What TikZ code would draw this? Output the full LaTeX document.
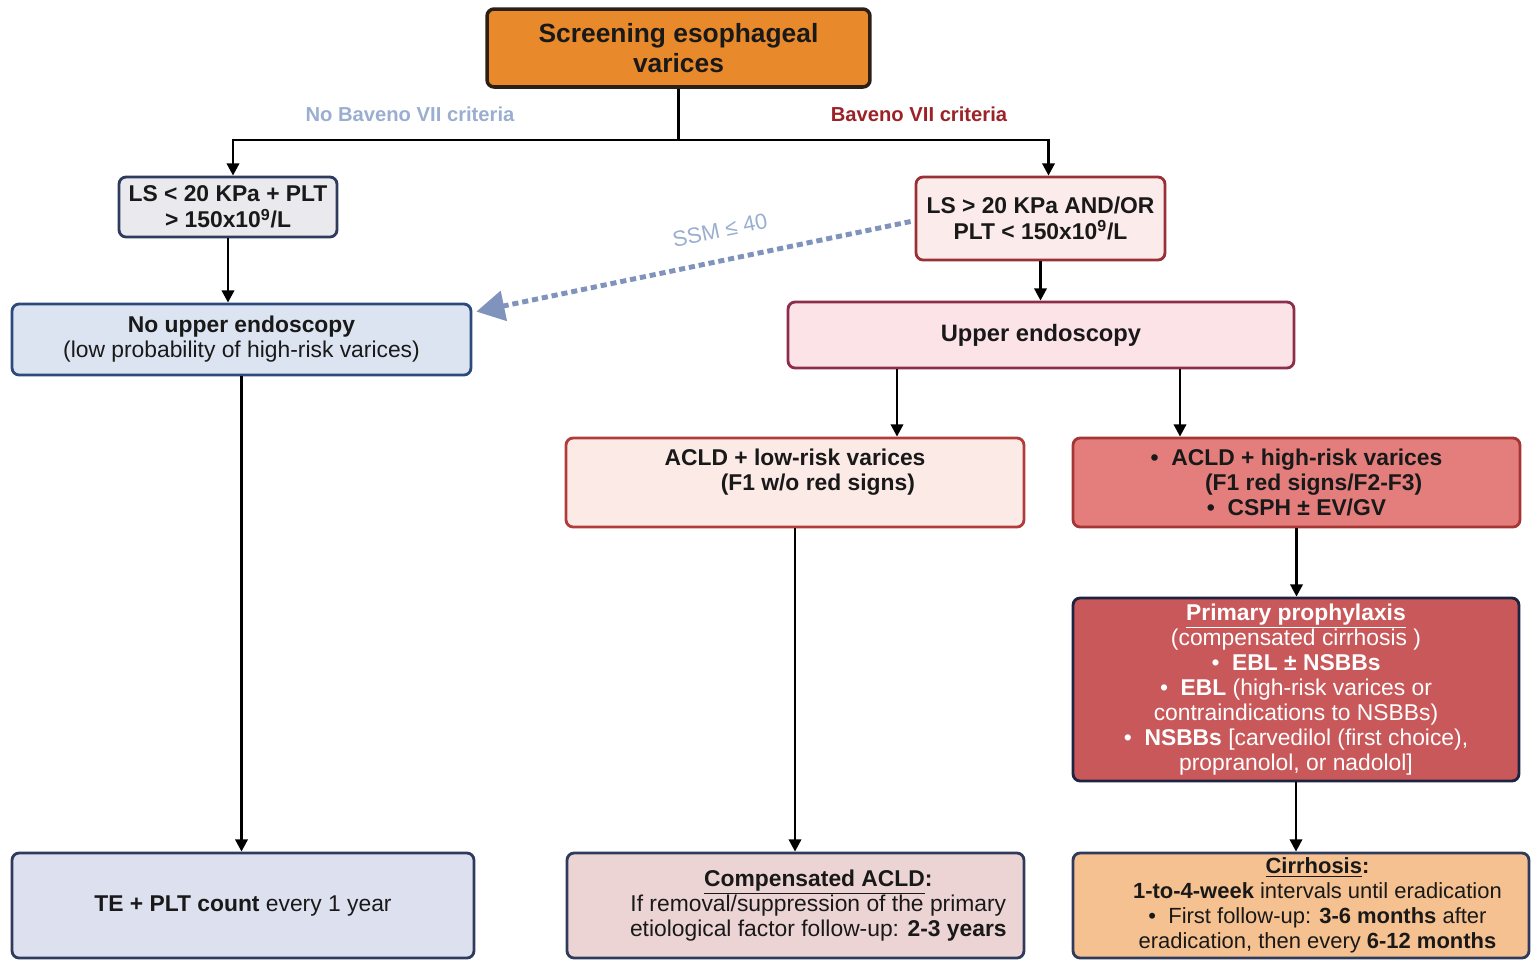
\documentclass[tikz,border=0pt]{standalone}
\usepackage{fontspec}
\setmainfont{Liberation Sans}
\usepackage{xcolor}
\usetikzlibrary{arrows.meta,calc,positioning}

\definecolor{titleorange}{HTML}{E8892B}
\definecolor{titleline}{HTML}{2A2016}
\definecolor{navyline}{HTML}{2E3B5C}
\definecolor{blueline}{HTML}{2D4A7C}
\definecolor{greyfill}{HTML}{E9E9EE}
\definecolor{bluefill}{HTML}{DCE3F1}
\definecolor{tefill}{HTML}{DDE1EF}
\definecolor{pinkfill}{HTML}{FCEBEB}
\definecolor{pinkline}{HTML}{9A2F35}
\definecolor{uefill}{HTML}{FCE3E8}
\definecolor{ueline}{HTML}{8E2C4B}
\definecolor{lowfill}{HTML}{FBEAE6}
\definecolor{lowline}{HTML}{B23B3B}
\definecolor{highfill}{HTML}{E47E7C}
\definecolor{highline}{HTML}{A63535}
\definecolor{primfill}{HTML}{C9585A}
\definecolor{primline}{HTML}{1E2340}
\definecolor{compfill}{HTML}{EDD4D4}
\definecolor{cirrfill}{HTML}{F6C190}
\definecolor{dotblue}{HTML}{8093BC}
\definecolor{labelblue}{HTML}{9AAECF}
\definecolor{labelred}{HTML}{9B2226}

\begin{document}
\begin{tikzpicture}[x=0.02cm, y=-0.02cm,
	box/.style={draw, line width=1.6pt, rounded corners=4pt, align=center,
		inner sep=2pt, font=\fontsize{13}{14.2}\selectfont, text=black!90},
	arr/.style={line width=1.6pt, -{Triangle[length=7pt,width=7pt]}},
	dotarr/.style={dotblue, line width=2.8pt, dash pattern=on 3.5pt off 2.2pt,
		-{Triangle[length=16pt,width=17pt]}},
	crit/.style={font=\bfseries\fontsize{11.5}{13}\selectfont}]
		\useasboundingbox (0,0) rectangle (1532,961);
		% first row
		\node[box, fill=titleorange, draw=titleline, line width=2pt,
			minimum width=7.66cm, minimum height=1.56cm,
			font=\bfseries\fontsize{15}{17}\selectfont]
			(title) at (678.5,48) {Screening esophageal\\varices};
		\node[box, fill=greyfill, draw=navyline, minimum width=4.36cm, minimum height=1.2cm,
			font=\bfseries\fontsize{13}{14.8}\selectfont]
			(lslow) at (228,207) {LS < 20 KPa + PLT\\> 150x10\textsuperscript{9}/L};
		\node[box, fill=pinkfill, draw=pinkline, minimum width=4.98cm, minimum height=1.66cm,
			font=\bfseries\fontsize{13}{14.8}\selectfont]
			(lshigh) at (1040.5,218.5) {LS > 20 KPa AND/OR\\PLT < 150x10\textsuperscript{9}/L};
		% endoscopy
		\node[box, fill=bluefill, draw=blueline, minimum width=9.18cm, minimum height=1.42cm]
			(noendo) at (241.5,339.5) {\textbf{No upper endoscopy}\\(low probability of high-risk varices)};
		\node[box, fill=uefill, draw=ueline, minimum width=10.12cm, minimum height=1.32cm,
			font=\bfseries\fontsize{13.5}{15}\selectfont]
			(ue) at (1041,335) {Upper endoscopy};
		\node[box, fill=lowfill, draw=lowline, minimum width=9.16cm, minimum height=1.78cm,
			font=\bfseries\fontsize{13}{14.2}\selectfont]
			(low) at (795,482.5) {ACLD + low-risk varices\\\hspace*{2em}(F1 w/o red signs)\\\mbox{}};
		\node[box, fill=highfill, draw=highline, minimum width=8.94cm, minimum height=1.78cm,
			font=\bfseries\fontsize{13}{14.2}\selectfont]
			(high) at (1296.5,482.5) {\textbullet\ \ ACLD + high-risk varices\\\hspace*{1.5em}(F1 red signs/F2-F3)\\\textbullet\ \ CSPH ± EV/GV};
		\node[box, fill=primfill, draw=primline, text=white, minimum width=8.92cm, minimum height=3.66cm]
			(prim) at (1296,689.5) {\underline{\textbf{Primary prophylaxis}}\\(compensated cirrhosis )\\
			\textbullet\ \ \textbf{EBL ± NSBBs}\\\textbullet\ \ \textbf{EBL} (high-risk varices or\\
			contraindications to NSBBs)\\\textbullet\ \ \textbf{NSBBs} [carvedilol (first choice),\\
			propranolol, or nadolol]};
		% follow-up
		\node[box, fill=tefill, draw=navyline, minimum width=9.24cm, minimum height=2.1cm]
			(te) at (243,905.5) {\textbf{TE + PLT count} every 1 year};
		\node[box, fill=compfill, draw=navyline, minimum width=9.14cm, minimum height=2.1cm]
			(comp) at (795.5,905.5) {\hspace*{2em}\underline{\textbf{Compensated ACLD}}\textbf{:}\\
			\hspace*{2em}If removal/suppression of the primary\\
			\hspace*{2em}etiological factor follow-up: \textbf{2-3 years}};
		\node[box, fill=cirrfill, draw=navyline, minimum width=9.12cm, minimum height=2.1cm,
			font=\fontsize{12.5}{14.2}\selectfont]
			(cirr) at (1301,905.5) {\hspace*{1.5em}\underline{\textbf{Cirrhosis}}\textbf{:}\\
			\hspace*{1.5em}\textbf{1-to-4-week} intervals until eradication\\
			\hspace*{1.5em}\textbullet\ \ First follow-up: \textbf{3-6 months} after\\
			\hspace*{1.5em}eradication, then every \textbf{6-12 months}};
		% connectors
		\coordinate (split) at (title.south |- 0,140);
		\coordinate (uelow) at ($(ue.south)+(-144,0)$);
		\coordinate (uehigh) at ($(ue.south)+(139,0)$);
		\draw[line width=1.6pt] (title.south) -- (split);
		\draw[arr] (split) -| ($(lslow.north)+(5,0)$);
		\draw[arr] (split) -| ($(lshigh.north)+(8,0)$);
		\node[crit, text=labelblue] (nocrit) at (410,114) {No Baveno VII criteria};
		\node[crit, text=labelred] (yescrit) at (919,114) {Baveno VII criteria};
		\foreach \a/\b in {lslow/noendo, lshigh/ue, high/prim, low/comp, prim/cirr, noendo/te, uelow/low, uehigh/high}
		\draw[arr] (\a.south) -- (\a.south |- \b.north);
		\draw[dotarr] ($(lshigh.west)+(-4,3)$) -- node[sloped, above=8pt, pos=0.425,
			text=labelblue, font=\fontsize{12.5}{14}\selectfont] (ssm) {SSM ≤ 40}
			($(noendo.north east)+(4,9)$);
	\end{tikzpicture}
\end{document}
